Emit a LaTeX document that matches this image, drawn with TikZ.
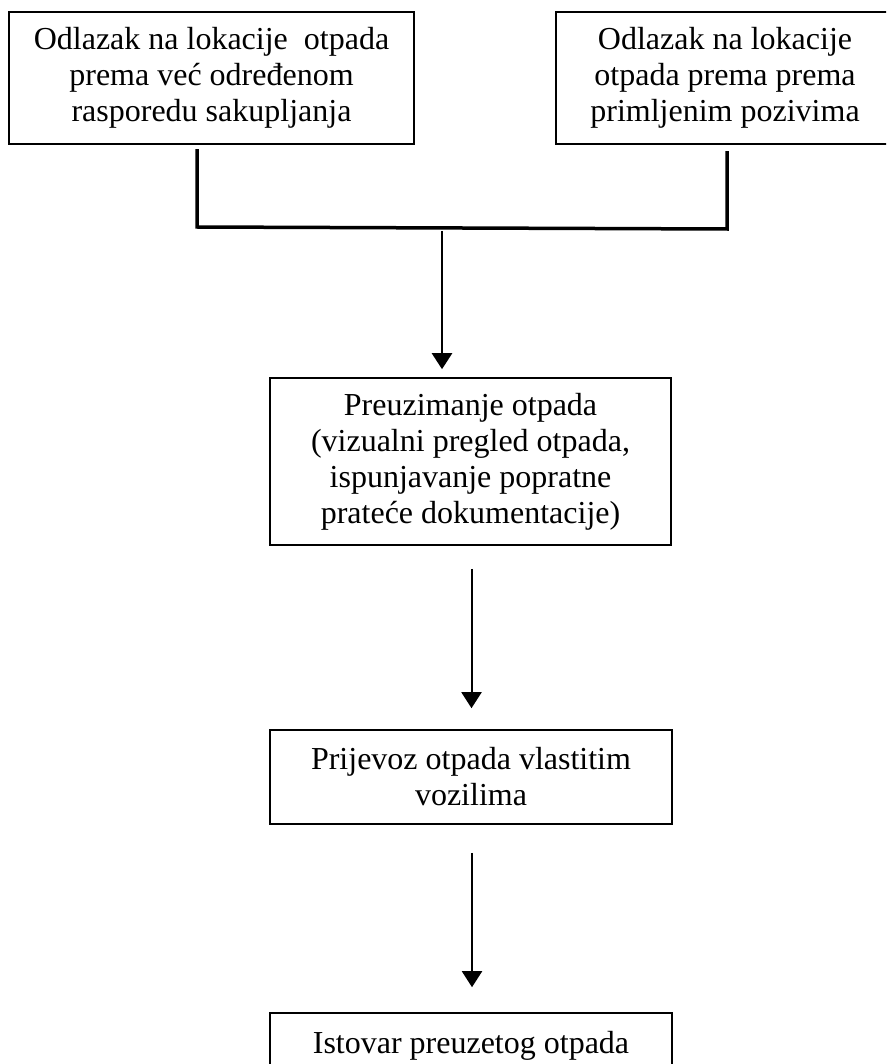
\documentclass[tikz,border=0pt]{standalone}
\usepackage{fontspec}
\setmainfont{Liberation Serif}
\usetikzlibrary{arrows.meta}
\begin{document}
\begin{tikzpicture}[x=1pt,y=-1pt,
  box/.style={draw, line width=1.6pt, inner sep=0pt, align=center,
    font=\fontsize{32}{36}\selectfont},
  bracket/.style={line width=3.5pt, line cap=rect},
  arr/.style={line width=2pt, -{Triangle[width=20pt,length=16pt]}}]
\useasboundingbox (0,0) rectangle (886,1064);
\clip (0,0) rectangle (886,1064);
\fill[white] (0,0) rectangle (886,1064);
\node[box, minimum width=405pt, minimum height=132pt] (b1) at (211.5,78)
  {Odlazak na lokacije\ \ otpada\\prema već određenom\\rasporedu sakupljanja};
\node[box, minimum width=338pt, minimum height=132pt] (b2) at (725,78)
  {Odlazak na lokacije\\otpada prema prema\\primljenim pozivima};
\node[box, minimum width=401pt, minimum height=167pt] (b3) at (470.5,461.5)
  {Preuzimanje otpada\\(vizualni pregled otpada,\\ispunjavanje popratne\\prateće dokumentacije)};
\node[box, minimum width=402pt, minimum height=94pt] (b4) at (471,777)
  {Prijevoz otpada vlastitim\\vozilima};
\node[box, minimum width=402pt, minimum height=66pt] (b5) at (471,1046)
  {Istovar preuzetog otpada};
\coordinate (l1) at (197,151);
\coordinate (l2) at (197,227);
\coordinate (r2) at (727,229);
\coordinate (r1) at (727,153);
\coordinate (j) at (442,231);
\draw[bracket] (l1) -- (l2) -- (r2) -- (r1);
\draw[arr, line width=2.5pt, shorten >=8pt] (j) -- (j |- b3.north);
\draw[arr, shorten <=23pt, shorten >=21pt] ([xshift=1pt]b3.south) -- ([xshift=1pt]b3.south |- b4.north);
\draw[arr, shorten <=28pt, shorten >=25pt] ([xshift=1pt]b4.south) -- ([xshift=1pt]b4.south |- b5.north);
\end{tikzpicture}
\end{document}
